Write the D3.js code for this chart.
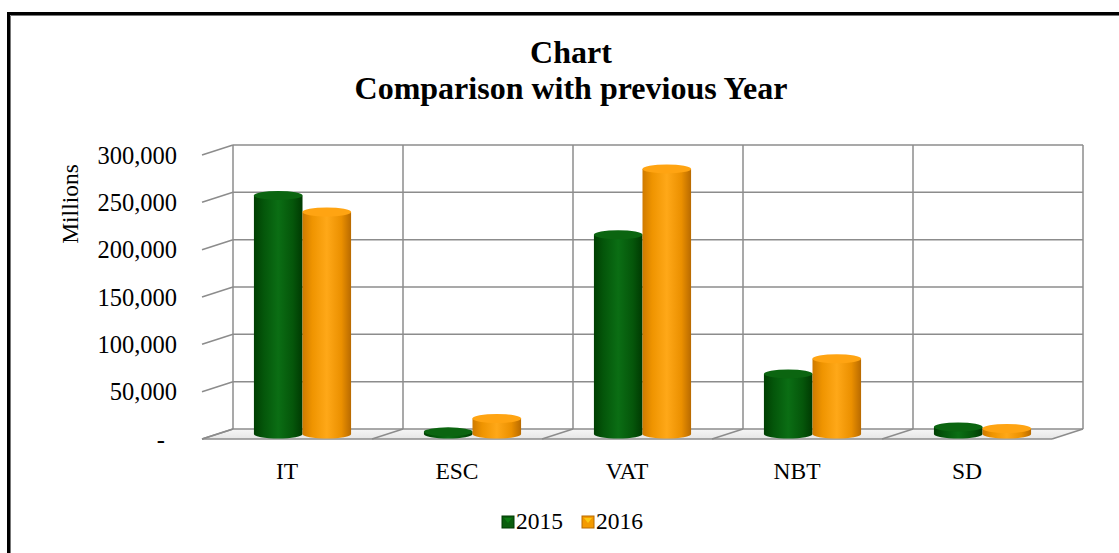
<!DOCTYPE html>
<html>
<head>
<meta charset="utf-8">
<script src="https://cdn.jsdelivr.net/npm/d3@7"></script>
<style>
  body { margin: 0; background: #fff; }
  text { font-family: 'Liberation Serif', 'Times New Roman', serif; fill: #000; }
</style>
</head>
<body>
<div id="chart"></div>
<script>
const categories = ['IT', 'ESC', 'VAT', 'NBT', 'SD'];
const seriesNames = ['2015', '2016'];
const values2015 = [252000, 2300, 210500, 63500, 7400];
const values2016 = [234500, 16400, 280000, 79500, 5800];
const yTicks = [0, 50000, 100000, 150000, 200000, 250000, 300000];

const width = 1119;
const height = 553;

// back wall and depth offset of the 3d box
const back = { left: 233, right: 1083, top: 145, bottom: 429 };
const depth = { dx: -31, dy: 10 };

const svg = d3.select('#chart')
  .append('svg').attr('width', width).attr('height', height);

const defs = svg.append('defs');

function cylGradient(id, stops) {
  const g = defs.append('linearGradient').attr('id', id)
    .attr('x1', '0%').attr('x2', '100%').attr('y1', '0%').attr('y2', '0%');
  stops.forEach(s => g.append('stop').attr('offset', s[0]).attr('stop-color', s[1]));
}
cylGradient('g2015', [['0%', '#003f02'], ['20%', '#04560a'], ['50%', '#0b6e14'], ['80%', '#05560a'], ['100%', '#003a02']]);
cylGradient('g2016', [['0%', '#cf7a00'], ['20%', '#ef9400'], ['50%', '#ffa818'], ['80%', '#eb9000'], ['100%', '#b86a00']]);
const topColor = { '2015': '#0b6510', '2016': '#ffa412' };
const keyColor = { '2015': '#0b5e0e', '2016': '#f49a00' };

const floorGrad = defs.append('linearGradient').attr('id', 'floor')
  .attr('x1', '0%').attr('x2', '0%').attr('y1', '0%').attr('y2', '100%');
floorGrad.append('stop').attr('offset', '0%').attr('stop-color', '#f6f6f6');
floorGrad.append('stop').attr('offset', '100%').attr('stop-color', '#e6e6e6');

// outer frame (only top and left edges are inside the picture)
svg.append('path')
  .attr('d', 'M8.5,' + (height + 5) + 'V13.5H' + (width + 5))
  .attr('fill', 'none').attr('stroke', '#000').attr('stroke-width', 3);
svg.append('path')
  .attr('d', 'M10.5,' + (height + 5) + 'V15.5H' + (width + 5))
  .attr('fill', 'none').attr('stroke', '#777').attr('stroke-width', 1);

// scales
const x = d3.scaleBand()
  .domain(categories)
  .range([back.left, back.right]);
const yBack = d3.scaleLinear()
  .domain([0, 300000])
  .range([back.bottom, back.top]);
const yMid = v => yBack(v) + depth.dy / 2;

const grid = '#8c8c8c';

// floor
svg.append('path')
  .attr('d', 'M' + back.left + ',' + back.bottom + 'H' + back.right +
    'l' + depth.dx + ',' + depth.dy + 'H' + (back.left + depth.dx) + 'Z')
  .attr('fill', 'url(#floor)');
svg.append('line')
  .attr('x1', back.left + depth.dx).attr('x2', back.right + depth.dx)
  .attr('y1', back.bottom + depth.dy).attr('y2', back.bottom + depth.dy)
  .attr('stroke', grid).attr('stroke-width', 1.5);
svg.selectAll('.floor-div')
  .data(categories.map(c => x(c)).concat([back.right]))
  .enter().append('line')
  .attr('x1', d => d).attr('y1', back.bottom)
  .attr('x2', d => d + depth.dx).attr('y2', back.bottom + depth.dy)
  .attr('stroke', grid).attr('stroke-width', 1.5);

// back wall grid
svg.selectAll('.hgrid')
  .data(yTicks)
  .enter().append('line')
  .attr('x1', back.left).attr('x2', back.right)
  .attr('y1', d => yBack(d)).attr('y2', d => yBack(d))
  .attr('stroke', grid).attr('stroke-width', 1.5);
svg.selectAll('.vgrid')
  .data(categories.map(c => x(c)).concat([back.right]))
  .enter().append('line')
  .attr('x1', d => d).attr('x2', d => d)
  .attr('y1', back.top).attr('y2', back.bottom)
  .attr('stroke', grid).attr('stroke-width', 1.5);

// side ticks running to the front
svg.selectAll('.side')
  .data(yTicks)
  .enter().append('line')
  .attr('x1', back.left).attr('y1', d => yBack(d))
  .attr('x2', back.left + depth.dx).attr('y2', d => yBack(d) + depth.dy)
  .attr('stroke', grid).attr('stroke-width', 1.5);

// add the y Axis labels (accounting style: zero shows as a dash)
svg.selectAll('.ylab')
  .data(yTicks)
  .enter().append('text')
  .attr('x', back.left + depth.dx - 25)
  .attr('y', d => yBack(d) + depth.dy)
  .attr('dx', d => d === 0 ? -12 : 0)
  .attr('dy', '0.35em')
  .attr('text-anchor', 'end')
  .style('font-size', '24.5px')
  .text(d => d === 0 ? '-' : d3.format(',')(d));

svg.append('text')
  .attr('transform', 'translate(78,204) rotate(-90)')
  .attr('text-anchor', 'middle')
  .style('font-size', '23.5px')
  .text('Millions');

// add the x Axis labels
svg.selectAll('.xlab')
  .data(categories)
  .enter().append('text')
  .attr('x', d => x(d) + x.bandwidth() / 2 + depth.dx)
  .attr('y', back.bottom + depth.dy + 40)
  .attr('text-anchor', 'middle')
  .style('font-size', '23.5px')
  .text(d => d);

// cylinders
const x1 = d3.scaleBand()
  .domain(seriesNames)
  .range([0, x.bandwidth()])
  .paddingInner(0)
  .paddingOuter(0.75);

const bars = [];
categories.forEach((c, i) => {
  bars.push({ cat: c, s: '2015', v: values2015[i] });
  bars.push({ cat: c, s: '2016', v: values2016[i] });
});

const ry = 4.5;
const cyl = svg.selectAll('.cyl')
  .data(bars)
  .enter().append('g');

cyl.append('path')
  .attr('d', d => {
    const x0 = x(d.cat) + depth.dx / 2 + x1(d.s);
    const w = x1.bandwidth();
    const yt = yMid(d.v);
    const yb = yMid(0);
    return 'M' + x0 + ',' + yt + 'V' + yb +
      'A' + (w / 2) + ',' + ry + ' 0 0 0 ' + (x0 + w) + ',' + yb +
      'V' + yt + 'Z';
  })
  .attr('fill', d => 'url(#g' + d.s + ')');

cyl.append('ellipse')
  .attr('cx', d => x(d.cat) + depth.dx / 2 + x1(d.s) + x1.bandwidth() / 2)
  .attr('cy', d => yMid(d.v))
  .attr('rx', x1.bandwidth() / 2)
  .attr('ry', ry)
  .attr('fill', d => topColor[d.s]);

// title
svg.append('text')
  .attr('x', 571).attr('y', 63)
  .attr('text-anchor', 'middle')
  .style('font-size', '32px').style('font-weight', 'bold')
  .text('Chart');
svg.append('text')
  .attr('x', 571).attr('y', 99)
  .attr('text-anchor', 'middle')
  .style('font-size', '32px').style('font-weight', 'bold')
  .text('Comparison with previous Year');

// legend
const legend = svg.selectAll('.legend')
  .data(seriesNames)
  .enter().append('g')
  .attr('transform', (d, i) => 'translate(' + (502 + i * 80) + ',516)');
legend.append('rect')
  .attr('width', 12).attr('height', 12)
  .attr('fill', d => keyColor[d])
  .attr('stroke', d => d === '2015' ? '#003a02' : '#b86a00');
legend.append('path')
  .attr('d', 'M2,2H10L6,7Z')
  .attr('fill', d => topColor[d])
  .attr('opacity', 0.8)
  .style('filter', 'brightness(1.3)');
legend.append('text')
  .attr('x', 14).attr('y', 13)
  .style('font-size', '23.5px')
  .text(d => d);
</script>
</body>
</html>
